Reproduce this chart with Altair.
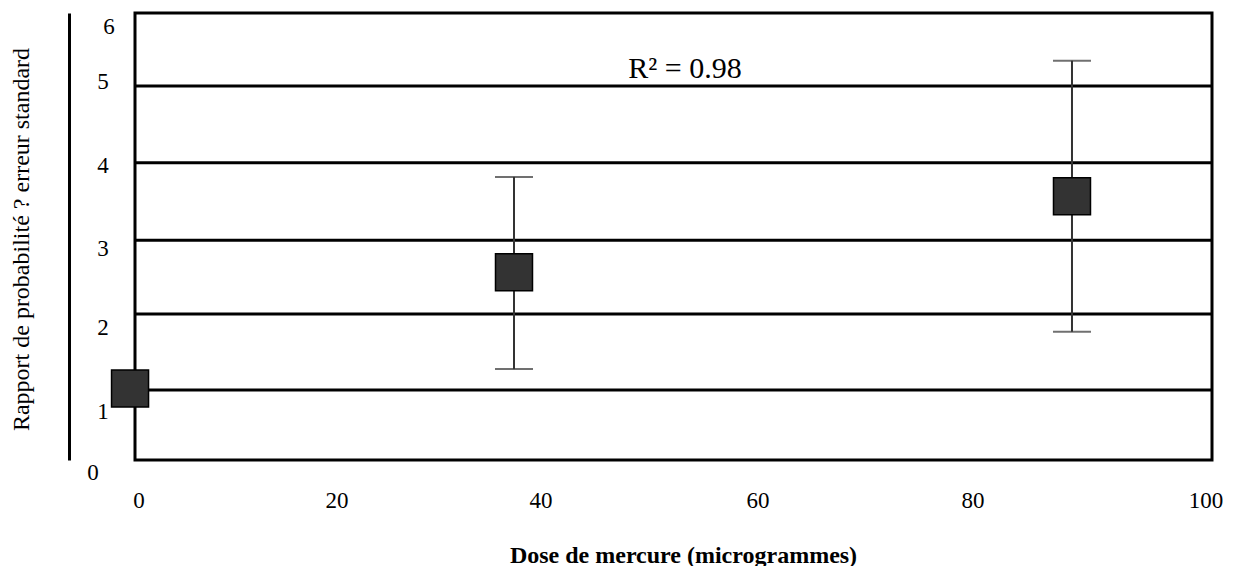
import altair as alt
import pandas as pd

# Data points (dose, odds ratio, error bar bounds)
dose = [-0.46, 35.19, 87.0]
ratio = [0.96, 2.52, 3.54]
err_low = [None, 1.22, 1.72]
err_high = [None, 3.80, 5.36]

# Horizontal grid lines (as drawn)
grid_values = [0.94, 1.96, 2.95, 3.99, 5.02]

# Y tick labels and their positions as drawn
y_labels = ["0", "1", "2", "3", "4", "5", "6"]
y_label_pos = [-0.17, 0.64, 1.77, 2.83, 3.95, 5.07, 5.81]
y_label_x = [-3.90, -2.97, -2.97, -2.97, -2.97, -2.97, -2.41]

# X tick labels and their positions as drawn
x_labels = ["0", "20", "40", "60", "80", "100"]
x_label_pos = [0.37, 18.76, 37.70, 57.85, 77.81, 99.44]
x_label_y = -0.55

annotation = "R² = 0.98"
ann_x, ann_y = 51.07, 5.13

FONT = "Liberation Serif"

pts = pd.DataFrame({"dose": dose, "ratio": ratio, "lo": err_low, "hi": err_high})
errs = pts.dropna()
grid = pd.DataFrame({"g": grid_values})
ylab = pd.DataFrame({"t": y_labels, "y": y_label_pos, "x": y_label_x})
xlab = pd.DataFrame({"t": x_labels, "x": x_label_pos, "y": [x_label_y] * len(x_labels)})
ann = pd.DataFrame({"t": [annotation], "x": [ann_x], "y": [ann_y]})

xs = alt.Scale(domain=[0, 100], nice=False, zero=False)
ys = alt.Scale(domain=[0, 6], nice=False, zero=False)

xaxis = alt.Axis(
    title="Dose de mercure (microgrammes)",
    titleFont=FONT, titleFontSize=24, titleFontWeight="bold", titleColor="black",
    titleX=548, titleY=95, titleBaseline="middle", titleAlign="center",
    labels=False, ticks=False, domain=False, grid=False,
)
yaxis = alt.Axis(
    title="Rapport de probabilité ?  erreur standard",
    titleFont=FONT, titleFontSize=24, titleFontWeight="normal", titleColor="black",
    titleX=-48, titleY=226, titleBaseline="middle", titleAlign="center", titleAngle=270,
    labels=False, ticks=False, grid=False, domain=True, domainColor="black",
    domainWidth=3, offset=66,
)

base = alt.Chart(pts)

gridlines = alt.Chart(grid).mark_rule(color="black", strokeWidth=3).encode(
    y=alt.Y("g:Q", scale=ys, axis=yaxis)
)

bars = alt.Chart(errs).mark_rule(color="#333333", strokeWidth=2).encode(
    x=alt.X("dose:Q", scale=xs, axis=xaxis),
    y=alt.Y("lo:Q", scale=ys),
    y2="hi:Q",
)
cap_lo = alt.Chart(errs).mark_tick(color="#333333", thickness=2, size=38, orient="horizontal").encode(
    x=alt.X("dose:Q", scale=xs), y=alt.Y("lo:Q", scale=ys)
)
cap_hi = alt.Chart(errs).mark_tick(color="#333333", thickness=2, size=38, orient="horizontal").encode(
    x=alt.X("dose:Q", scale=xs), y=alt.Y("hi:Q", scale=ys)
)

squares = base.mark_square(size=1369, fill="#333333", stroke="black", strokeWidth=1.5, opacity=1, clip=False).encode(
    x=alt.X("dose:Q", scale=xs), y=alt.Y("ratio:Q", scale=ys)
)

ytext = alt.Chart(ylab).mark_text(font=FONT, fontSize=23, color="black", align="center", baseline="middle", clip=False).encode(
    x=alt.X("x:Q", scale=xs), y=alt.Y("y:Q", scale=ys), text="t:N"
)
xtext = alt.Chart(xlab).mark_text(font=FONT, fontSize=23, color="black", align="center", baseline="middle", clip=False).encode(
    x=alt.X("x:Q", scale=xs), y=alt.Y("y:Q", scale=ys), text="t:N"
)
anntext = alt.Chart(ann).mark_text(font=FONT, fontSize=30, color="black", align="center", baseline="alphabetic").encode(
    x=alt.X("x:Q", scale=xs), y=alt.Y("y:Q", scale=ys), text="t:N"
)

chart = alt.layer(gridlines, bars, cap_lo, cap_hi, squares, ytext, xtext, anntext).properties(
    width=1077,
    height=447,
    autosize=alt.AutoSizeParams(type="none"),
    padding={"left": 127, "top": 5, "right": 14, "bottom": 106},
    background="white",
).configure_view(stroke="black", strokeWidth=3)

chart.save("out.html", embed_options={"renderer": "svg", "actions": False})
